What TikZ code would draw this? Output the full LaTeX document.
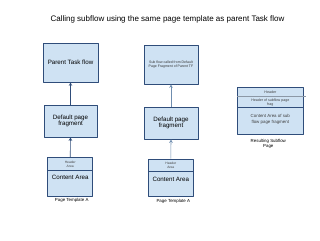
\documentclass[tikz,border=0pt]{standalone}
\usepackage{fontspec}
\setmainfont{Liberation Sans}
\definecolor{boxfill}{HTML}{CFE2F3}
\definecolor{boxline}{HTML}{2F4D7A}
\definecolor{softline}{HTML}{6F8DAF}
\definecolor{sepgray}{HTML}{8C98A6}
\begin{document}
\begin{tikzpicture}[x=1pt,y=-1pt,>=stealth, line join=round]
	\tikzset{
		pagebox/.style={draw=boxline, fill=boxfill, line width=0.6pt, inner sep=0pt, align=center, font=\fontsize{6.2}{6.7}\selectfont},
		tinytext/.style={font=\fontsize{3.3}{3.6}\selectfont, text=black!75, align=center, inner sep=0pt},
		caption/.style={font=\fontsize{4.4}{5.3}\selectfont, align=center, inner sep=0pt},
		flowarrow/.style={->, draw=boxline, line width=0.6pt}
	}
	\useasboundingbox (0,0) rectangle (320,240);
	\node[font=\fontsize{8}{9}\selectfont] (title) at (167.5,19.3) {Calling subflow using the same page template as parent Task flow};
	% first column
	\node[pagebox, minimum width=55, minimum height=39] (ptf) at (70.5,62.5) {Parent Task flow};
	\node[pagebox, minimum width=53, minimum height=32] (dpfA) at (70.5,121) {Default page\\fragment};
	\node[pagebox, minimum width=45, minimum height=38.7] (tplA) at (70.2,176.6) {};
	\node[tinytext] (hdrA) at (70.2,164.2) {Header\\Area};
	\draw[boxline, line width=0.6pt] (tplA.west |- 0,170.3) -- (tplA.east |- 0,170.3);
	\node[font=\fontsize{6.2}{6.7}\selectfont, inner sep=0pt] (cntA) at (70.2,177.5) {Content Area};
	\node[caption] (capA) at (71.7,200.7) {Page Template A};
	\draw[flowarrow] (dpfA.north) -- (ptf.south);
	\draw[flowarrow] (tplA.north) -- (dpfA.south);
	% second column
	\node[pagebox, minimum width=54, minimum height=39, font=\fontsize{3.5}{4.2}\selectfont, text=black!80] (sub) at (171,64.5) {Sub flow called from Default\\Page Fragment of Parent TF};
	\node[pagebox, minimum width=54, minimum height=32] (dpfB) at (171,123) {Default page\\fragment};
	\node[pagebox, minimum width=45, minimum height=37] (tplB) at (170.8,177.5) {};
	\node[tinytext] (hdrB) at (170.8,165.6) {Header\\Area};
	\draw[boxline, line width=0.6pt] (tplB.west |- 0,171.7) -- (tplB.east |- 0,171.7);
	\node[font=\fontsize{6.2}{6.7}\selectfont, inner sep=0pt] (cntB) at (170.8,179.2) {Content Area};
	\node[caption] (capB) at (173.3,201) {Page Template A};
	\draw[flowarrow, draw=softline] (dpfB.north) -- (sub.south);
	\draw[flowarrow, draw=softline] (tplB.north) -- (dpfB.south);
	% resulting page
	\node[pagebox, minimum width=66, minimum height=47] (res) at (270.3,110.8) {};
	\node[tinytext, font=\fontsize{3.6}{3.7}\selectfont] (hdrC) at (270.3,91.8) {Header};
	\draw[sepgray, line width=0.6pt] (res.west |- 0,96) -- ([xshift=2pt]res.east |- 0,96);
	\node[tinytext, font=\fontsize{3.6}{3.9}\selectfont] (subhdr) at (270.3,102.2) {Header of subflow page\\frag};
	\draw[boxline, line width=0.6pt] (res.west |- 0,107.3) -- (res.east |- 0,107.3);
	\node[tinytext, font=\fontsize{4.4}{6}\selectfont] (subcnt) at (270.3,119) {Content Area of sub\\flow page fragment};
	\node[caption] (capC) at (268.3,143.6) {Resulting Subflow\\Page};
\end{tikzpicture}
\end{document}
